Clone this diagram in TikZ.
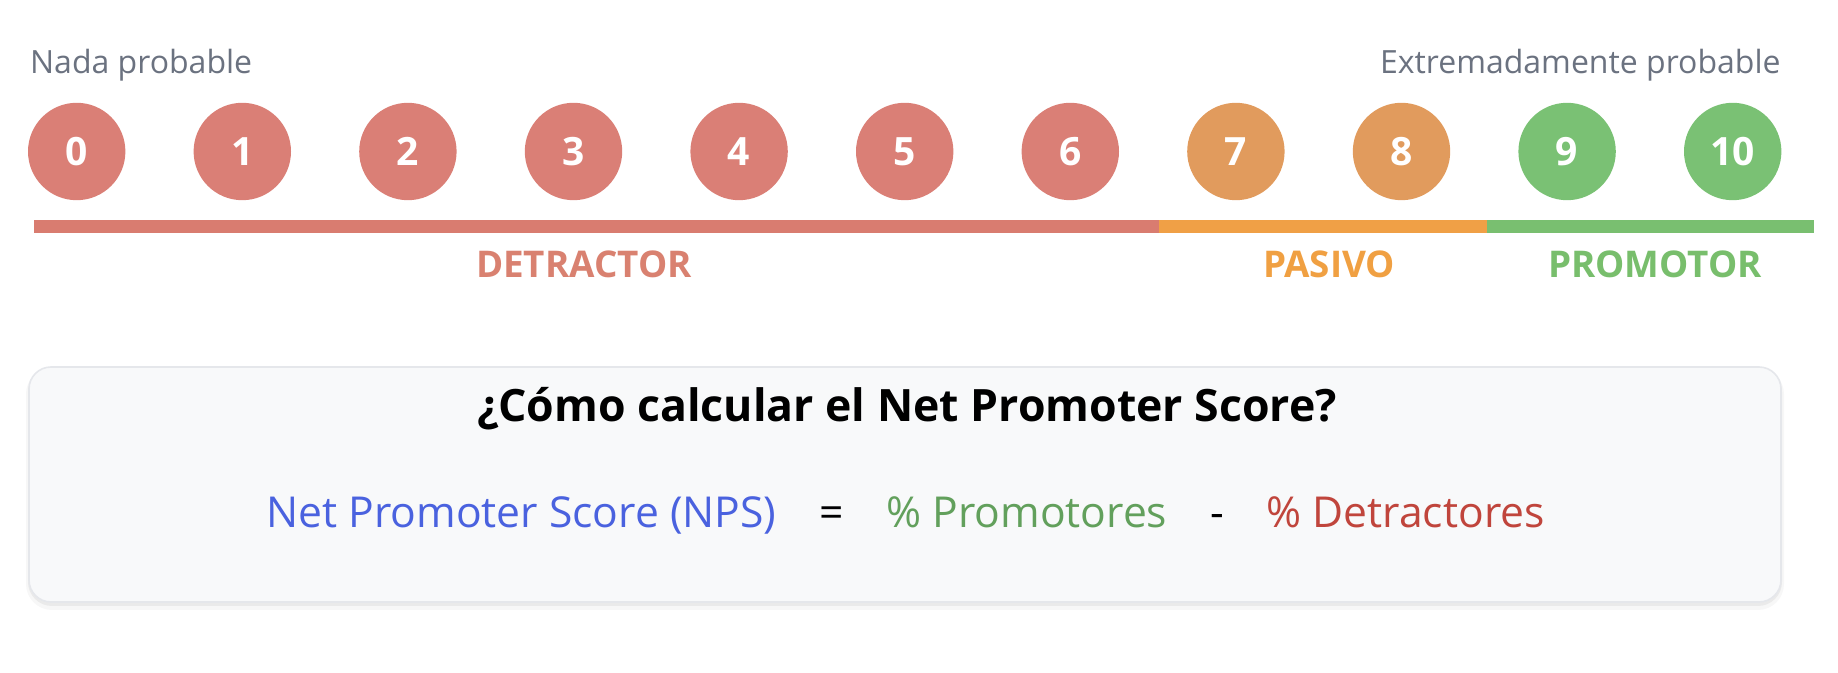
\documentclass[tikz,border=0pt]{standalone}
\usepackage{fontspec}
\setmainfont{Open Sans}
\usetikzlibrary{positioning}

\definecolor{detrfill}{HTML}{DA7F76}
\definecolor{pasfill}{HTML}{E19B5D}
\definecolor{promfill}{HTML}{7AC174}
\definecolor{detrbar}{HTML}{D97C70}
\definecolor{pasbar}{HTML}{F0A046}
\definecolor{prombar}{HTML}{79BF70}
\definecolor{detrlab}{HTML}{D98170}
\definecolor{paslab}{HTML}{F0A042}
\definecolor{promlab}{HTML}{78BE6C}
\definecolor{hintgray}{HTML}{6B7280}
\definecolor{boxfill}{HTML}{F8F9FA}
\definecolor{boxline}{HTML}{E5E7EB}
\definecolor{npsblue}{HTML}{4A62DF}
\definecolor{promtext}{HTML}{62A05C}
\definecolor{detrtext}{HTML}{C0453C}

\begin{document}
\begin{tikzpicture}[x=0.5pt,y=-0.5pt]
	% styles for the score circles and the texts
	\tikzset{
		node distance=82.8pt, % centre to centre distance of two scores
		score/.style={circle, minimum size=48.7pt, inner sep=0pt, text=white,
			font=\fontsize{19.5}{19.5}\selectfont\bfseries},
		detr/.style={score, fill=detrfill},
		pasivo/.style={score, fill=pasfill},
		promo/.style={score, fill=promfill},
		hint/.style={text=hintgray, inner sep=0pt, font=\fontsize{16}{16}\selectfont},
		catlabel/.style={anchor=base, inner sep=0pt, font=\fontsize{18.4}{18.4}\selectfont\bfseries},
		formula/.style={inner sep=0pt, font=\fontsize{21.3}{22}\selectfont},
	}
	\useasboundingbox (0,0) rectangle (1838,673);
	% end labels of the scale
	\node[hint, anchor=base west] (nada) at (29.7,73.3) {Nada probable};
	\node[hint, anchor=base east] (extr) at (1781,73.3) {Extremadamente probable};
	% the scores, each one right of the one before
	\node[detr] (s0) at (76.7,151.5) {0};
	\node[detr, right of=s0] (s1) {1};
	\node[detr, right of=s1] (s2) {2};
	\node[detr, right of=s2] (s3) {3};
	\node[detr, right of=s3] (s4) {4};
	\node[detr, right of=s4] (s5) {5};
	\node[detr, right of=s5] (s6) {6};
	\node[pasivo, right of=s6] (s7) {7};
	\node[pasivo, right of=s7] (s8) {8};
	\node[promo, right of=s8] (s9) {9};
	\node[promo, right of=s9] (s10) {10};
	% coloured bar under the scores
	\fill[detrbar] (34.4,220.5) rectangle (1158.8,233.5);
	\fill[pasbar] (1158.8,220.5) rectangle (1486.8,233.5);
	\fill[prombar] (1486.8,220.5) rectangle (1814,233.5);
	\node[catlabel, text=detrlab] (ldetr) at (584,278) {DETRACTOR};
	\node[catlabel, text=paslab] (lpas) at (1329,278) {PASIVO};
	\node[catlabel, text=promlab] (lprom) at (1655,278) {PROMOTOR};
	% card with the formula, a soft shadow first
	\fill[black, opacity=0.03, rounded corners=13pt] (26,368) rectangle (1784,610);
	\fill[black, opacity=0.05, rounded corners=12pt] (28,368) rectangle (1782,606);
	\filldraw[fill=boxfill, draw=boxline, line width=0.8pt, rounded corners=11pt]
		(29,367) rectangle (1781,602);
	\node[anchor=base, inner sep=0pt, font=\fontsize{22.3}{23}\selectfont\bfseries] (title)
		at (907,421.7) {¿Cómo calcular el Net Promoter Score?};
	\node[formula, text=npsblue, anchor=base west] (nps) at (266,527.3) {Net Promoter Score (NPS)};
	\node[formula, base right=21pt of nps] (eq) {=};
	\node[formula, text=promtext, base right=21pt of eq] (prom) {\% Promotores};
	\node[formula, base right=21pt of prom] (minus) {-};
	\node[formula, text=detrtext, base right=21pt of minus] (pdetr) {\% Detractores};
\end{tikzpicture}
\end{document}
